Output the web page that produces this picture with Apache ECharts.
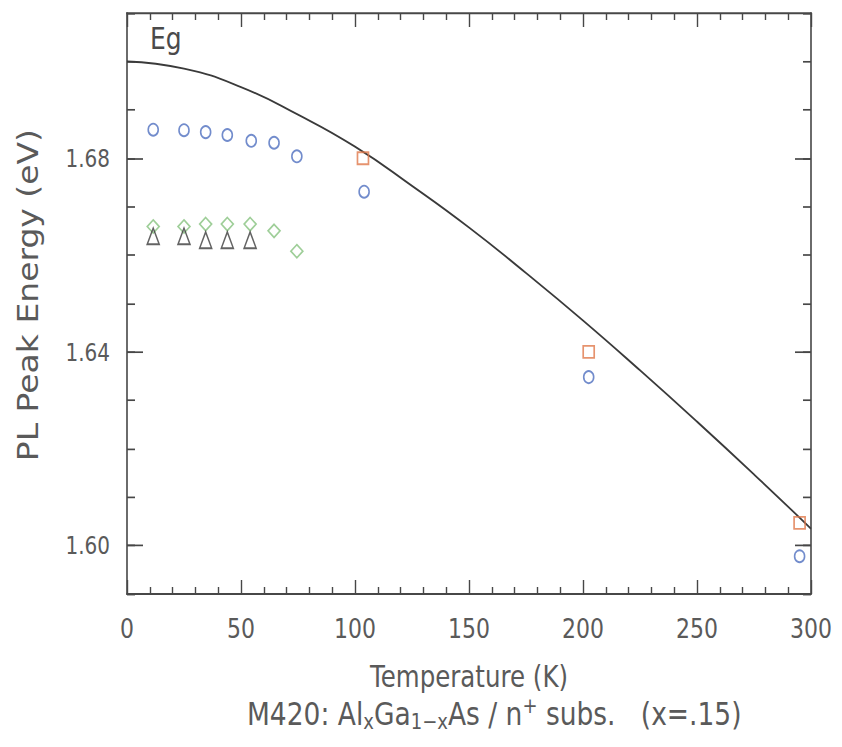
<!DOCTYPE html>
<html>
<head>
<meta charset="utf-8">
<script src="https://cdn.jsdelivr.net/npm/echarts@6/dist/echarts.min.js"></script>
<style>
  html, body { margin: 0; padding: 0; background: #fff; overflow: hidden; }
  #wrap { width: 842px; height: 747px; overflow: hidden; }
  #chart { width: 842px; transform-origin: 0 0; }
</style>
</head>
<body>
<div id="wrap"><div id="chart"></div></div>
<script>
// ---- Data: PL peak energy vs temperature, sample M420 ----
const circleT   = [11.5, 25, 34.5, 44, 54.5, 64.5, 74.5, 104, 202.5, 295];
const circleE   = [1.6859, 1.6858, 1.6854, 1.6848, 1.6836, 1.6832, 1.6804, 1.6731, 1.6348, 1.5978];
const squareT   = [103.5, 202.5, 295];
const squareE   = [1.6800, 1.6400, 1.6047];
const diamondT  = [11.5, 25, 34.5, 44, 54, 64.5, 74.5];
const diamondE  = [1.6659, 1.6659, 1.6664, 1.6664, 1.6664, 1.6650, 1.6608];
const triangleT = [11.5, 25, 34.5, 44, 54];
const triangleE = [1.6639, 1.6639, 1.6631, 1.6631, 1.6631];
// band gap Eg(T)
const egT = [0, 25, 50, 75, 100, 125, 150, 175, 200, 225, 250, 275, 300];
const egE = [1.7000, 1.6985, 1.6947, 1.6890, 1.6824, 1.6743, 1.6657, 1.6563, 1.6465, 1.6362, 1.6256, 1.6147, 1.6035];
const egLabel = { text: 'Eg', T: 17, E: 1.7046 };

// axes
const xMin = 0, xMax = 300, xMajor = 50, xMinorSplit = 5;
const yMin = 1.59, yMax = 1.71, yMinor = 0.01;
const yLabelMin = 1.60, yLabelMax = 1.68, yMajor = 0.04;
const xTitle = 'Temperature (K)';
const yTitle = 'PL Peak Energy (eV)';

// ---- Layout (the printed figure is taller than it is wide: vertical stretch) ----
const SY = 1.2;
const W = 842, H = 747;
const chartH = H / SY;
const el = document.getElementById('chart');
el.style.height = chartH + 'px';
el.style.transform = 'scaleY(' + SY + ')';

const gLeft = 127, gRight = W - 811;
const gTop = 13 / SY, gHeight = 581 / SY;
const g1Top = gTop + (yMax - yLabelMax) / (yMax - yMin) * gHeight;
const g1Height = (yLabelMax - yLabelMin) / (yMax - yMin) * gHeight;

const ink = '#474747';
const textColor = '#5a5a5a';
const fontFamily = '"DejaVu Sans", "Liberation Sans", sans-serif';
const lineW = 1.6;

const zip = (a, b) => a.map((v, i) => [v, b[i]]);

const baseX = {
  type: 'value', min: xMin, max: xMax, interval: xMajor,
  axisLine: { show: true, onZero: false, lineStyle: { color: ink, width: lineW } },
  axisTick: { show: true, inside: true, length: 14 / SY, lineStyle: { color: ink, width: 1.4 } },
  minorTick: { show: true, splitNumber: xMinorSplit, length: 7 / SY, lineStyle: { color: ink, width: 1.4 } },
  splitLine: { show: false }, minorSplitLine: { show: false }
};
const baseYMinor = {
  type: 'value', gridIndex: 0, min: yMin, max: yMax, interval: yMinor,
  axisLine: { show: true, onZero: false, lineStyle: { color: ink, width: lineW } },
  axisTick: { show: true, inside: true, length: 8, lineStyle: { color: ink, width: 1.4 } },
  axisLabel: { show: false }, splitLine: { show: false }
};
const baseYMajor = {
  type: 'value', gridIndex: 1, min: yLabelMin, max: yLabelMax, interval: yMajor,
  axisLine: { show: false },
  axisTick: { show: true, inside: true, length: 16, lineStyle: { color: ink, width: 1.4 } },
  splitLine: { show: false }
};

const hollow = (color, bw) => ({ color: 'rgba(0,0,0,0)', borderColor: color, borderWidth: bw });
const capStyle = (size, extra) => Object.assign(
  { fontFamily, fontSize: size, fontWeight: 'normal', color: textColor }, extra);

const option = {
  animation: false,
  backgroundColor: '#fff',
  textStyle: { fontFamily, fontWeight: 'normal' },
  title: {
    left: 242, top: 574,
    text: '{a|M420: Al}{s|x}{a|Ga}{s|1\u2212x}{a|As / n}{p|+}{a| subs.   (x=.15)}',
    textStyle: {
      fontWeight: 'normal', fontFamily, color: textColor,
      rich: {
        a: capStyle(26.5, { lineHeight: 32 }),
        s: capStyle(18, { lineHeight: 17, verticalAlign: 'bottom' }),
        p: capStyle(18, { lineHeight: 17, verticalAlign: 'top' })
      }
    }
  },
  grid: [
    { left: gLeft, right: gRight, top: gTop, height: gHeight, containLabel: false },
    { left: gLeft, right: gRight, top: g1Top, height: g1Height, containLabel: false }
  ],
  xAxis: [
    Object.assign({}, baseX, {
      gridIndex: 0, position: 'bottom',
      axisLabel: { show: true, margin: 18, fontSize: 22, color: textColor, fontFamily },
      name: xTitle, nameLocation: 'middle', nameGap: 56,
      nameTextStyle: { fontSize: 24.5, color: textColor, fontFamily }
    }),
    Object.assign({}, baseX, { gridIndex: 0, position: 'top', axisLabel: { show: false } }),
    { type: 'value', gridIndex: 1, min: xMin, max: xMax, show: false }
  ],
  yAxis: [
    Object.assign({}, baseYMinor, {
      position: 'left',
      name: yTitle, nameLocation: 'middle', nameGap: 85,
      nameTextStyle: { fontSize: 27.5, color: textColor, fontFamily, padding: [0, 0, 0, 14] }
    }),
    Object.assign({}, baseYMinor, { position: 'right' }),
    Object.assign({}, baseYMajor, {
      position: 'left',
      axisLabel: { show: true, margin: 17, fontSize: 20, color: textColor, fontFamily,
                   formatter: v => v.toFixed(2) }
    }),
    Object.assign({}, baseYMajor, { position: 'right', axisLabel: { show: false } })
  ],
  series: [
    {
      name: 'Eg', type: 'line', xAxisIndex: 0, yAxisIndex: 0,
      data: zip(egT, egE), smooth: true, showSymbol: false, symbol: 'none',
      lineStyle: { color: '#3a3a3a', width: 1.6 }, z: 2,
      markPoint: {
        symbol: 'circle', symbolSize: 0, silent: true,
        label: { show: true, position: 'inside', formatter: egLabel.text,
                 fontSize: 25, color: '#4a4a4a', fontFamily },
        data: [{ coord: [egLabel.T, egLabel.E] }]
      }
    },
    {
      name: 'circles', type: 'scatter', xAxisIndex: 0, yAxisIndex: 0,
      data: zip(circleT, circleE), symbol: 'circle', symbolSize: [10, 10],
      itemStyle: hollow('#4f6fbf', 1.6), z: 3
    },
    {
      name: 'squares', type: 'scatter', xAxisIndex: 0, yAxisIndex: 0,
      data: zip(squareT, squareE), symbol: 'rect', symbolSize: [11, 10],
      itemStyle: hollow('#e0784a', 1.6), z: 3
    },
    {
      name: 'diamonds', type: 'scatter', xAxisIndex: 0, yAxisIndex: 0,
      data: zip(diamondT, diamondE), symbol: 'diamond', symbolSize: [12, 11],
      itemStyle: hollow('#86c27e', 1.5), z: 3
    },
    {
      name: 'triangles', type: 'scatter', xAxisIndex: 0, yAxisIndex: 0,
      data: zip(triangleT, triangleE), symbol: 'triangle', symbolSize: [12, 13.5],
      itemStyle: hollow('#3c3c3c', 1.5), z: 3
    }
  ]
};

const chart = echarts.init(el, null, { renderer: 'svg', width: W, height: chartH });
chart.setOption(option);
</script>
</body>
</html>
